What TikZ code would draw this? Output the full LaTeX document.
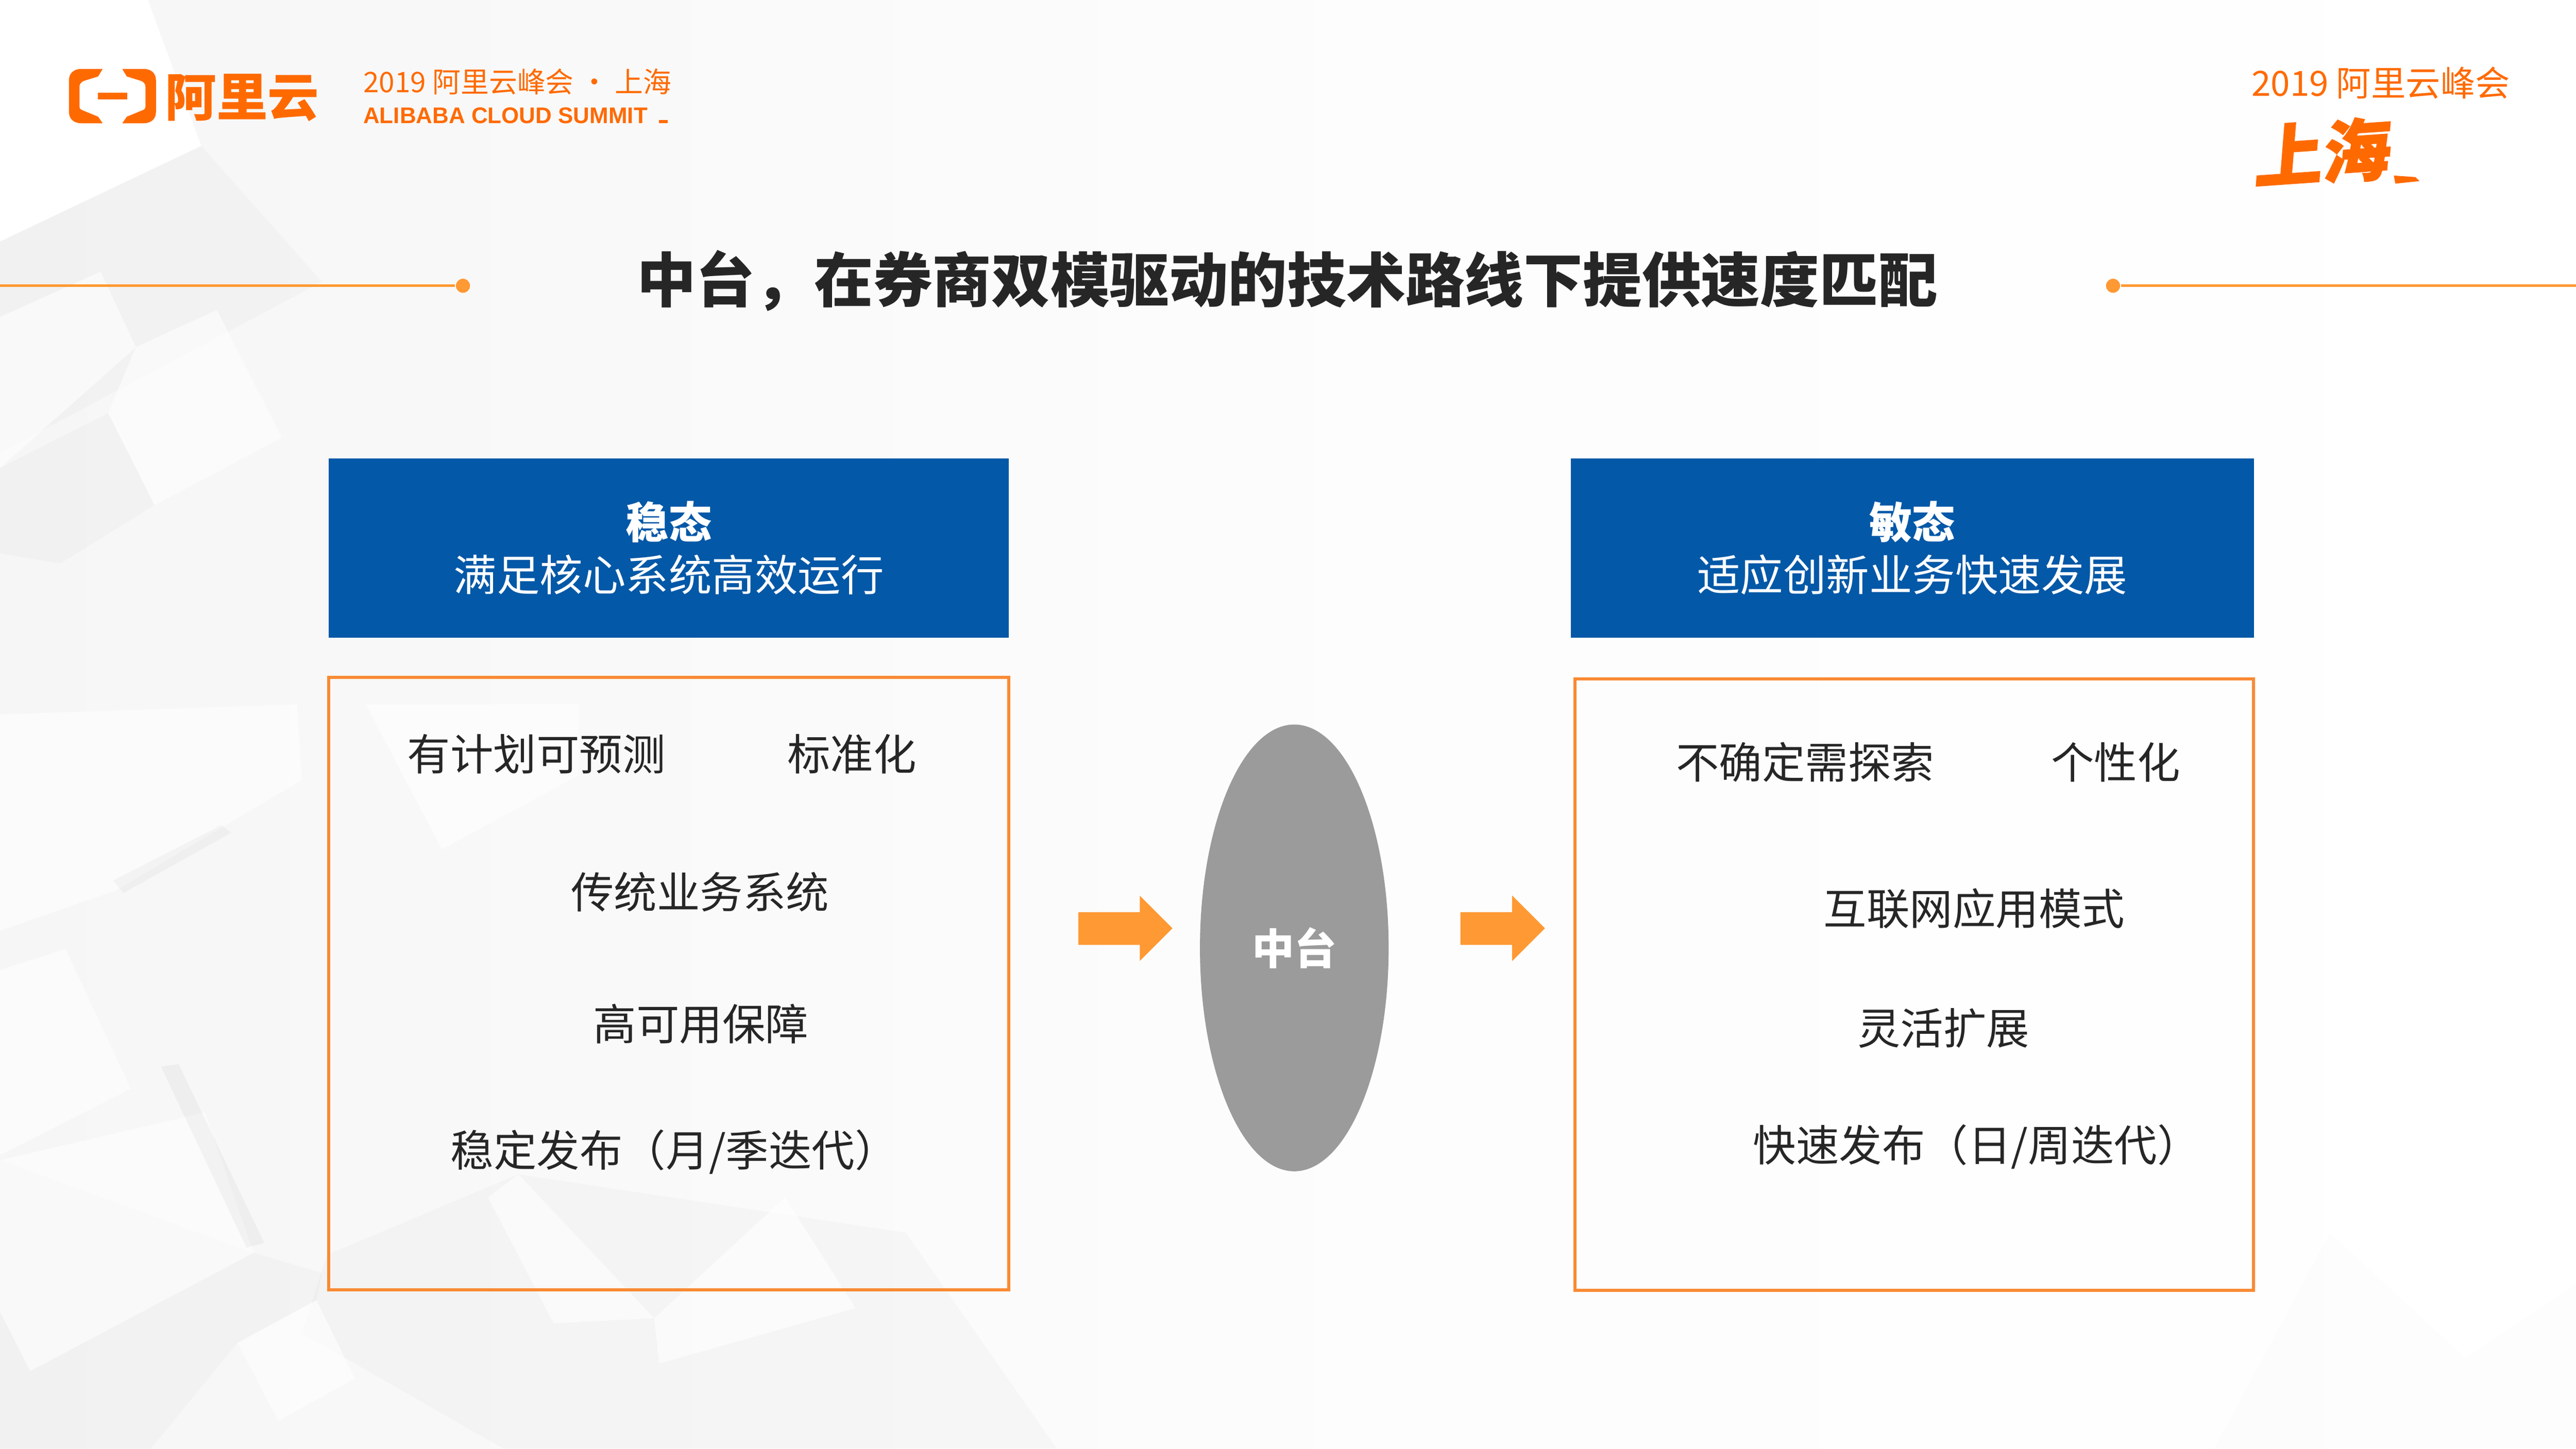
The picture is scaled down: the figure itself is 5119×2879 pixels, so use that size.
\documentclass[tikz,border=0pt]{standalone}
\usepackage{fontspec}
\setmainfont{Noto Sans CJK SC}
\newfontfamily\brush{Noto Sans CJK SC}[BoldFeatures={FakeBold=1.6,FakeSlant=0.15}]
\newfontfamily\latinf{Liberation Sans}
\usetikzlibrary{shapes.geometric}
\definecolor{logoOrange}{HTML}{FF6A00}
\definecolor{lineOrange}{HTML}{FF9933}
\definecolor{boxOrange}{HTML}{F98A33}
\definecolor{headBlue}{HTML}{0358A7}
\definecolor{ovalGray}{HTML}{9B9B9B}
\definecolor{inkDark}{HTML}{262626}
\tikzset{
  bgwhite/.style={fill=white,draw=none,opacity=.6},
  bggray/.style={fill=black,draw=none,opacity=.018},
  headbox/.style={rectangle,fill=headBlue,text=white,align=center,inner sep=0,outer sep=0,
     font=\fontsize{8.55}{10.4}\selectfont},
  listbox/.style={rectangle,draw=boxOrange,line width=.6pt,inner sep=0,outer sep=0},
  item/.style={text=inkDark,inner sep=0,font=\fontsize{8.55}{10}\selectfont},
  blockarrow/.style={fill=lineOrange,draw=none},
  rule/.style={draw=lineOrange,line width=.5pt},
  ruledot/.style={circle,fill=lineOrange,inner sep=0,minimum size=2.8pt}
}
\begin{document}
\begin{tikzpicture}[x=.1pt,y=-.1pt]
\useasboundingbox (0,0) rectangle (5119,2879);
% background
\fill[left color=black!3.5,right color=white,middle color=black!1] (0,0) rectangle (5119,2879);
\fill[white] (0,0) -- (294,0) -- (400,290) -- (0,480) -- cycle;
\fill[bggray] (0,480) -- (400,290) -- (640,560) -- (0,900) -- cycle;
\fill[bgwhite] (431,616) -- (560,870) -- (307,1004) -- (215,821) -- (270,690) -- cycle;
\fill[bgwhite] (0,630) -- (200,540) -- (270,690) -- (0,930) -- cycle;
\fill[bggray] (0,930) -- (215,821) -- (307,1004) -- (120,1120) -- (0,1100) -- cycle;
\fill[bgwhite] (0,1420) -- (590,1400) -- (600,1550) -- (230,1770) -- (0,1850) -- cycle;
\fill[bgwhite] (727,1400) -- (1150,1400) -- (1150,1541) -- (878,1688) -- cycle;
\fill[bggray] (1030,2334) -- (650,2494) -- (600,2650) -- (1000,2879) -- (2100,2879) -- (1800,2450) -- cycle;
\fill[bggray] (0,2306) -- (504,2490) -- (640,2530) -- (629,2584) -- (472,2669) -- (300,2879) -- (0,2879) -- cycle;
\fill[bgwhite] (130,1886) -- (260,2164) -- (0,2296) -- (0,1928) -- cycle;
\fill[bgwhite] (0,2306) -- (407,2211) -- (504,2490) -- (60,2725) -- (0,2607) -- cycle;
\fill[bgwhite] (629,2584) -- (705,2740) -- (553,2824) -- (472,2669) -- cycle;
\fill[bgwhite] (1030,2334) -- (1300,2620) -- (1100,2630) -- (970,2380) -- cycle;
\fill[bgwhite] (1300,2620) -- (1560,2380) -- (1700,2600) -- (1310,2710) -- cycle;
\fill[black,opacity=.035] (320,2120) -- (355,2115) -- (525,2470) -- (490,2480) -- cycle;
\fill[black,opacity=.03] (225,1750) -- (440,1640) -- (460,1655) -- (245,1775) -- cycle;
\fill[black,opacity=.008] (4400,2879) -- (4630,2450) -- (4900,2700) -- (5119,2550) -- (5119,2879) -- cycle;
% logo
\fill[logoOrange] (204,137) -- (195,152) -- (166,161) .. controls (160,164) and (158,168) .. (158,172) -- (158,212) .. controls (158,216) and (160,218) .. (166,220) -- (195,232) -- (204,245) -- (162,245) .. controls (145,245) and (137,235) .. (137,222) -- (137,160) .. controls (137,147) and (145,137) .. (162,137) -- cycle;
\fill[logoOrange] (243,137) -- (252,152) -- (281,161) .. controls (287,164) and (289,168) .. (289,172) -- (289,212) .. controls (289,216) and (287,218) .. (281,220) -- (252,232) -- (243,245) -- (285,245) .. controls (302,245) and (310,235) .. (310,222) -- (310,160) .. controls (310,147) and (302,137) .. (285,137) -- cycle;
\fill[logoOrange] (195,184) rectangle (253,198);
\node[inner sep=0,text=logoOrange,font=\fontsize{10.2}{11}\bfseries\selectfont] (logotext) at (481,194) {阿里云};
\node[inner sep=0,anchor=west,text=logoOrange,font=\fontsize{5.62}{7}\selectfont] (summitcn) at (720,162) {2019 阿里云峰会 · 上海};
\node[inner sep=0,anchor=west,text=logoOrange,font=\fontsize{4.5}{5}\latinf\bfseries\selectfont] (summiten) at (720,230) {ALIBABA CLOUD SUMMIT};
\fill[logoOrange] (1309,239) rectangle (1327,245);
\node[inner sep=0,text=logoOrange,font=\fontsize{6.9}{8}\selectfont] (summitr) at (4731,165) {2019 阿里云峰会};
\node[inner sep=0,text=logoOrange,rotate=4,font=\fontsize{13.5}{14}\brush\bfseries\selectfont] (brushsh) at (4610,303) {上海};
\fill[logoOrange] (4757,349) -- (4800,352) -- (4808,360) -- (4760,365) -- cycle;
% title and rules
\node[inner sep=0,text=inkDark,font=\fontsize{11.75}{13}\bfseries\selectfont] (title) at (2558,558) {中台，在券商双模驱动的技术路线下提供速度匹配};
\coordinate (lstart) at (0,568);
\coordinate (rend) at (5119,568);
\node[ruledot] (ldot) at (920,568) {};
\node[ruledot] (rdot) at (4199,568) {};
\draw[rule] (lstart) -- (ldot);
\draw[rule] (rdot) -- (rend);
% headers
\node[headbox,minimum width=135.2pt,minimum height=35.6pt] (lhead) at (1329,1089) {{\bfseries 稳态}\\满足核心系统高效运行};
\node[headbox,minimum width=135.8pt,minimum height=35.6pt] (rhead) at (3800,1089) {{\bfseries 敏态}\\适应创新业务快速发展};
% list boxes
\node[listbox,minimum width=135.2pt,minimum height=121.7pt] (lbox) at (1329,1955) {};
\node[listbox,minimum width=134.8pt,minimum height=121.6pt] (rbox) at (3804,1957) {};
% left items
\node[item] (l1) at (1066,1499) {有计划可预测};
\node[item] (l2) at (1693,1499) {标准化};
\node[item] (l3) at (1391,1773) {传统业务系统};
\node[item] (l4) at (1393,2035) {高可用保障};
\node[item] (l5) at (1340,2289) {稳定发布（月/季迭代）};
% right items
\node[item] (r1) at (3587,1515) {不确定需探索};
\node[item] (r2) at (4204,1515) {个性化};
\node[item] (r3) at (3923,1806) {互联网应用模式};
\node[item] (r4) at (3862,2044) {灵活扩展};
\node[item] (r5) at (3928,2279) {快速发布（日/周迭代）};
% centre
\node[ellipse,fill=ovalGray,inner sep=0,minimum width=37.5pt,minimum height=88.8pt] (hub) at (2572,1884) {};
\node[inner sep=0,text=white,font=\fontsize{8.4}{10}\bfseries\selectfont] (hubtext) at (hub.center) {中台};
\fill[blockarrow] (2143,1813) -- (2265,1813) -- (2265,1780) -- (2330,1845) -- (2265,1910) -- (2265,1878) -- (2143,1878) -- cycle;
\fill[blockarrow] (2902,1813) -- (3005,1813) -- (3005,1780) -- (3070,1845) -- (3005,1910) -- (3005,1878) -- (2902,1878) -- cycle;
\end{tikzpicture}
\end{document}
